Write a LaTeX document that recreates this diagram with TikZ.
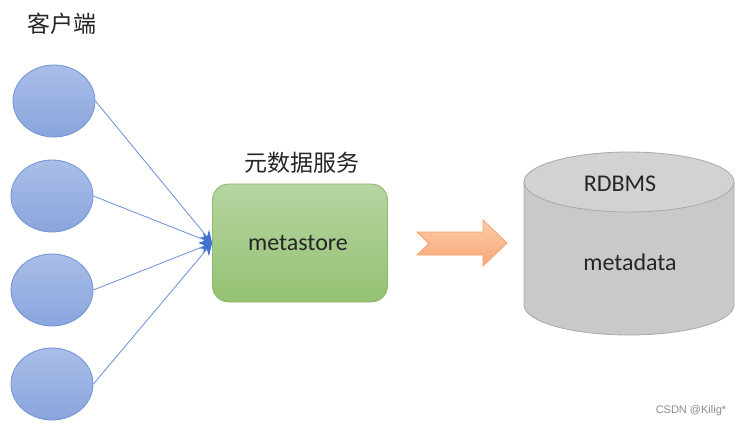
\documentclass[tikz,border=0pt]{standalone}
\usepackage{fontspec}
\setmainfont{Carlito}
\newfontfamily\cjk{Noto Sans CJK SC}
\newfontfamily\wmfont{Liberation Sans}
\usepackage{tikz}
\usetikzlibrary{shapes.geometric,arrows.meta}

\definecolor{cliborder}{HTML}{7093D6}
\definecolor{clitop}{HTML}{A9BEE8}
\definecolor{clibot}{HTML}{8AA5DD}
\definecolor{linkblue}{HTML}{6B90D8}
\definecolor{tipblue}{HTML}{3F72CF}
\definecolor{greentop}{HTML}{B6D5A2}
\definecolor{greenbot}{HTML}{94C172}
\definecolor{greenline}{HTML}{8DBA6C}
\definecolor{orangetop}{HTML}{FCCBA9}
\definecolor{orangebot}{HTML}{F9A877}
\definecolor{orangeline}{HTML}{F4A26C}
\definecolor{dbfill}{HTML}{C9C9C9}
\definecolor{dbtop}{HTML}{D2D2D2}
\definecolor{dbline}{HTML}{A9A9A9}

\tikzset{
  client/.style={ellipse, draw=cliborder, thick, top color=clitop, bottom color=clibot,
    minimum width=82pt, minimum height=72pt, inner sep=0pt},
  link/.style={draw=linkblue, line width=0.8pt, -{Stealth[length=12pt,width=12pt,color=tipblue]}},
  server/.style={draw=greenline, thick, rounded corners=16pt, top color=greentop, bottom color=greenbot,
    minimum width=175pt, minimum height=118pt, inner sep=0pt},
  label/.style={font=\fontsize{24}{28}\selectfont, text=black!85, inner sep=0pt},
  cjklabel/.style={font=\cjk\fontsize{23}{27}\selectfont, text=black!85, inner sep=0pt}
}

\begin{document}
\begin{tikzpicture}[x=1pt, y=-1pt]
  \useasboundingbox (0,0) rectangle (742,426); % 画面の大きさ
  \fill[white] (0,0) rectangle (742,426);

  \node[cjklabel] (clientlabel) at (62,24) {客户端}; % クライアント
  \node[client] (c1) at (54,101) {};
  \node[client] (c2) at (52,196) {};
  \node[client] (c3) at (52,290) {};
  \node[client] (c4) at (52,384) {};

  \node[cjklabel] (metalabel) at (302,163) {元数据服务};
  \node[server] (meta) at (300,243) {};
  \node[label] (metatext) at (298,243) {metastore};

  \foreach \c in {c1,c2,c3,c4}
    \draw[link] (\c.east) -- (meta.west); % 接続線

  % 矢印
  \draw[orangeline, thick, top color=orangetop, bottom color=orangebot]
    (417,232) -- (483,232) -- (483,220) -- (507,243) -- (483,266) -- (483,255)
    -- (417,255) -- (429,243.5) -- cycle;

  % データベース
  \draw[dbline, thick, fill=dbfill] (524,182) -- (524,305) arc[start angle=180, end angle=0, x radius=105, y radius=30]
    -- (734,182);
  \draw[dbline, thick, fill=dbtop] (629,182) ellipse[x radius=105, y radius=30];
  \node[label] (dbname) at (620,184) {RDBMS};
  \node[label] (dbdata) at (630,262) {metadata};

  \node[font=\wmfont\fontsize{11}{13}\selectfont, text=black!45, inner sep=0pt] (mark) at (691,411) {CSDN @Kilig*};
\end{tikzpicture}
\end{document}
